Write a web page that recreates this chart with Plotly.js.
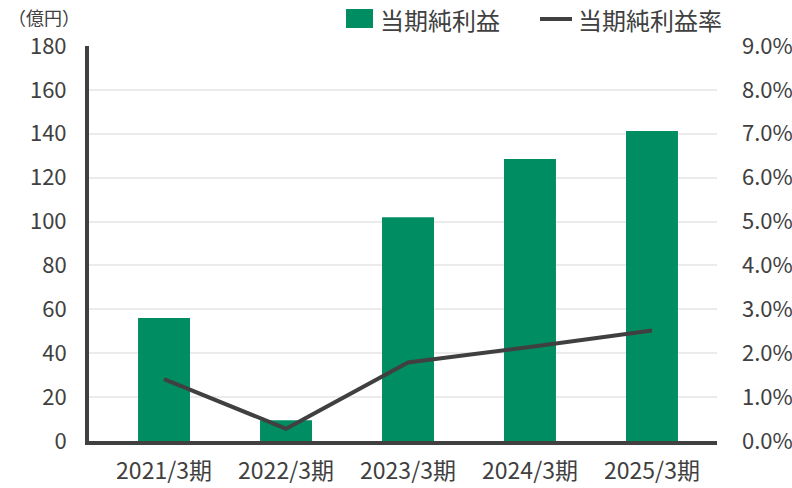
<!DOCTYPE html>
<html>
<head>
<meta charset="utf-8">
<script src="https://cdn.plot.ly/plotly-3.0.1.min.js"></script>
<style>html,body{margin:0;padding:0;background:#fff;}#chart{width:792px;height:488px;}</style>
</head>
<body>
<div id="chart"></div>
<script>
const categories = ["2021/3期", "2022/3期", "2023/3期", "2024/3期", "2025/3期"];
const netIncome = [56, 9.5, 102, 128.5, 141.3];
const netIncomeRate = [0.0141, 0.0028, 0.0179, 0.0214, 0.0252];
const leftTicks = [0, 20, 40, 60, 80, 100, 120, 140, 160, 180];
const rightTicks = [0, 0.01, 0.02, 0.03, 0.04, 0.05, 0.06, 0.07, 0.08, 0.09];
const seriesNames = ["当期純利益", "当期純利益率"];
const unitLabel = "（億円）";

const FONT = "'Noto Sans CJK JP', 'Noto Sans', sans-serif";
const TXT = "#404040";
const GREEN = "#008d62";
const LINE = "#404040";

const L = 89, R = 75, T = 46, B = 47;
const W = 792 - L - R, H = 488 - T - B;
const px = x => (x - L) / W;
const py = y => (488 - B - y) / H;

const traces = [
  {
    type: "bar", x: categories, y: netIncome, name: seriesNames[0],
    marker: {color: GREEN}, width: 0.426, yaxis: "y", hoverinfo: "none"
  },
  {
    type: "scatter", mode: "lines", x: categories, y: netIncomeRate, name: seriesNames[1],
    line: {color: LINE, width: 4}, yaxis: "y2", hoverinfo: "none"
  }
];

const layout = {
  width: 792, height: 488,
  margin: {l: L, r: R, t: T, b: B, pad: 0},
  paper_bgcolor: "#fff", plot_bgcolor: "#fff",
  showlegend: false,
  font: {family: FONT, color: TXT, size: 21},
  xaxis: {
    type: "category", range: [-0.615, 4.533],
    showgrid: false, zeroline: false,
    showline: true, linecolor: "#404040", linewidth: 4,
    ticks: "", ticklabelstandoff: 6,
    tickfont: {family: FONT, color: TXT, size: 23}
  },
  yaxis: {
    range: [0, 180], tickvals: leftTicks, ticktext: leftTicks.map(String),
    showgrid: true, gridcolor: "#ebebeb", gridwidth: 2,
    zeroline: false, showline: true, linecolor: "#404040", linewidth: 4,
    ticks: "", ticklabelstandoff: 14,
    tickfont: {family: FONT, color: TXT, size: 22}
  },
  yaxis2: {
    overlaying: "y", side: "right", range: [0, 0.09],
    tickvals: rightTicks, ticktext: rightTicks.map(v => (v * 100).toFixed(1) + "%"),
    showgrid: false, zeroline: false, showline: false,
    ticks: "", ticklabelstandoff: 24,
    tickfont: {family: FONT, color: TXT, size: 22}
  },
  shapes: [
    {type: "rect", xref: "paper", yref: "paper", x0: px(346), x1: px(373), y0: py(28), y1: py(9),
     fillcolor: GREEN, line: {width: 0}},
    {type: "line", xref: "paper", yref: "paper", x0: px(540), x1: px(572), y0: py(19), y1: py(19),
     line: {color: LINE, width: 4}}
  ],
  annotations: [
    {xref: "paper", yref: "paper", x: px(378), y: py(19), xanchor: "left", yanchor: "middle",
     text: seriesNames[0], showarrow: false, font: {family: FONT, color: TXT, size: 24}},
    {xref: "paper", yref: "paper", x: px(576), y: py(19), xanchor: "left", yanchor: "middle",
     text: seriesNames[1], showarrow: false, font: {family: FONT, color: TXT, size: 24}},
    {xref: "paper", yref: "paper", x: px(6), y: py(17), xanchor: "left", yanchor: "middle",
     text: unitLabel, showarrow: false, font: {family: FONT, color: TXT, size: 18}}
  ]
};

Plotly.newPlot("chart", traces, layout, {staticPlot: true, displayModeBar: false});
</script>
</body>
</html>
